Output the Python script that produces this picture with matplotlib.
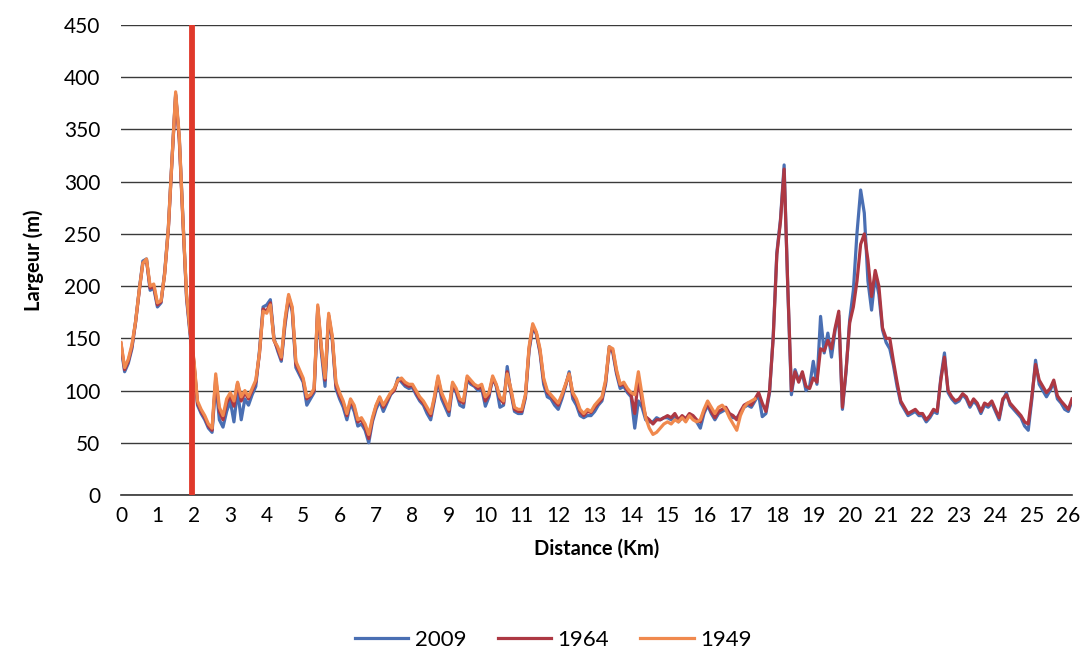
import numpy as np
import matplotlib
matplotlib.use("Agg")
import matplotlib.pyplot as plt
from matplotlib.ticker import MultipleLocator

# River width along the reach (m), sampled every 0.1 km
distance_km = np.round(np.arange(0, 26.15, 0.1), 1)

width_1964 = [
    145, 120, 128, 142, 165, 195, 222, 225, 198, 200,
    182, 185, 212, 254, 320, 383, 340, 262, 190, 155,
    128, 88, 80, 74, 66, 62, 112, 80, 72, 88,
    95, 85, 107, 90, 98, 92, 100, 108, 135, 178,
    176, 184, 148, 140, 130, 165, 190, 178, 125, 118,
    110, 92, 95, 100, 180, 140, 110, 172, 150, 105,
    95, 88, 76, 90, 84, 70, 72, 65, 54, 72,
    85, 93, 84, 90, 97, 100, 110, 110, 106, 104,
    105, 98, 92, 88, 82, 76, 92, 112, 96, 88,
    80, 106, 100, 90, 88, 112, 108, 105, 102, 104,
    90, 96, 112, 105, 92, 88, 118, 100, 82, 80,
    80, 95, 140, 162, 155, 138, 110, 98, 95, 90,
    86, 95, 105, 116, 96, 90, 80, 76, 80, 79,
    84, 88, 92, 108, 140, 138, 118, 105, 106, 100,
    96, 78, 112, 90, 75, 72, 68, 72, 72, 74,
    76, 74, 78, 72, 76, 73, 78, 76, 72, 70,
    80, 88, 80, 74, 80, 82, 84, 78, 76, 72,
    80, 86, 88, 86, 92, 98, 88, 80, 100, 150,
    230, 262, 312, 200, 100, 118, 108, 118, 104, 102,
    112, 108, 140, 138, 148, 140, 160, 176, 84, 120,
    165, 180, 205, 240, 250, 225, 190, 215, 200, 160,
    150, 150, 128, 108, 90, 84, 78, 80, 82, 78,
    78, 72, 76, 82, 80, 110, 132, 100, 94, 90,
    92, 97, 94, 86, 92, 88, 80, 88, 86, 90,
    82, 74, 92, 96, 88, 84, 80, 76, 70, 68,
    95, 125, 110, 104, 98, 102, 110, 95, 90, 86,
    82, 92,
]

width_2009 = [
    142, 118, 126, 140, 166, 196, 224, 226, 196, 198,
    180, 184, 214, 256, 322, 384, 342, 264, 188, 152,
    126, 86, 78, 72, 64, 60, 108, 72, 65, 80,
    90, 70, 100, 72, 92, 86, 96, 104, 138, 180,
    182, 187, 150, 138, 128, 162, 188, 176, 122, 115,
    108, 86, 92, 98, 178, 136, 104, 170, 148, 102,
    92, 84, 72, 88, 80, 66, 68, 62, 50, 70,
    82, 90, 80, 88, 96, 100, 112, 108, 104, 102,
    103, 96, 90, 86, 78, 72, 90, 110, 92, 84,
    76, 104, 98, 86, 84, 110, 106, 104, 100, 102,
    85, 94, 112, 104, 84, 86, 123, 98, 80, 78,
    78, 93, 138, 160, 154, 136, 106, 94, 92, 86,
    82, 92, 104, 118, 92, 86, 76, 74, 76, 76,
    80, 86, 90, 106, 142, 136, 116, 102, 104, 98,
    94, 64, 90, 84, 72, 70, 70, 74, 72, 74,
    74, 72, 76, 70, 74, 72, 76, 74, 70, 64,
    78, 86, 78, 72, 78, 80, 82, 76, 74, 74,
    78, 84, 86, 84, 90, 96, 75, 78, 98, 152,
    232, 264, 316, 198, 96, 120, 110, 116, 100, 104,
    128, 106, 171, 136, 155, 132, 158, 172, 82, 118,
    168, 196, 251, 292, 270, 205, 177, 210, 192, 158,
    146, 140, 124, 104, 88, 82, 76, 78, 80, 76,
    76, 70, 74, 80, 78, 112, 136, 98, 92, 88,
    90, 96, 92, 84, 90, 86, 78, 86, 84, 88,
    80, 72, 90, 98, 86, 82, 78, 74, 66, 62,
    92, 129, 106, 100, 94, 100, 108, 92, 88, 82,
    80, 90,
]

# 1949 survey stops near km 17.4
width_1949 = [
    146, 122, 130, 144, 166, 196, 222, 226, 200, 202,
    184, 186, 212, 256, 322, 386, 344, 264, 192, 156,
    130, 90, 82, 76, 68, 64, 116, 84, 76, 92,
    98, 90, 108, 94, 100, 94, 102, 110, 136, 176,
    174, 182, 148, 142, 132, 168, 192, 180, 128, 120,
    112, 94, 96, 102, 182, 142, 112, 174, 152, 108,
    98, 90, 78, 92, 86, 72, 74, 68, 58, 74,
    86, 94, 86, 92, 98, 102, 110, 112, 108, 106,
    106, 100, 94, 90, 84, 78, 94, 114, 98, 90,
    82, 108, 102, 92, 90, 114, 110, 106, 104, 106,
    94, 98, 114, 106, 94, 90, 116, 102, 84, 82,
    82, 96, 142, 164, 156, 140, 112, 100, 96, 92,
    88, 96, 106, 116, 98, 92, 82, 78, 82, 80,
    86, 90, 94, 110, 142, 140, 120, 106, 108, 102,
    98, 96, 118, 96, 74, 64, 58, 60, 64, 68,
    70, 68, 72, 70, 74, 70, 76, 72, 70, 72,
    82, 90, 84, 78, 84, 86, 82, 74, 68, 62,
    76, 84, 88, 90, 92,
]

vline_km = 1.96

C_2009 = "#4a6fb3"
C_1964 = "#ad3843"
C_1949 = "#f0894e"

plt.rcParams["font.family"] = ["Lato", "DejaVu Sans"]

fig = plt.figure(figsize=(10.85, 6.52), dpi=100)
ax = fig.add_axes([0.1115, 0.2408, 0.8765, 0.7209])

ax.plot(distance_km, width_2009, color=C_2009, lw=2.3, label="2009", zorder=3)
ax.plot(distance_km, width_1964, color=C_1964, lw=2.3, label="1964", zorder=4)
ax.plot(distance_km[:len(width_1949)], width_1949, color=C_1949, lw=2.3,
        label="1949", zorder=5)

ax.axvline(vline_km, color="#e0392b", lw=4.2, zorder=6)

ax.set_xlim(0, 26.1)
ax.set_ylim(0, 450)

ax.yaxis.set_major_locator(MultipleLocator(50))
ax.grid(axis="y", color="#3a3a3a", lw=1.0)
ax.set_axisbelow(True)

# integer labels without marks, small marks at odd km
ax.set_xticks(np.arange(0, 27))
ax.set_xticks(np.arange(1, 27, 2), minor=True)
ax.tick_params(axis="x", which="major", length=0, pad=8, labelsize=15)
ax.tick_params(axis="x", which="minor", length=5, color="#333333", width=1)
ax.tick_params(axis="y", length=0, pad=15, labelsize=15)

for side in ["left", "right", "top"]:
    ax.spines[side].set_visible(False)
ax.spines["bottom"].set_color("#333333")
ax.spines["bottom"].set_linewidth(1.2)

ax.set_xlabel("Distance (Km)", fontsize=14.5, fontweight="bold", labelpad=9)
ax.set_ylabel("Largeur (m)", fontsize=14.5, fontweight="bold", labelpad=14)

fig.legend(loc="center", bbox_to_anchor=(0.51, 0.018), ncol=3, frameon=False,
           fontsize=16, handlelength=2.4, columnspacing=1.4, handletextpad=0.3)

fig.savefig("out.png", dpi=100)
